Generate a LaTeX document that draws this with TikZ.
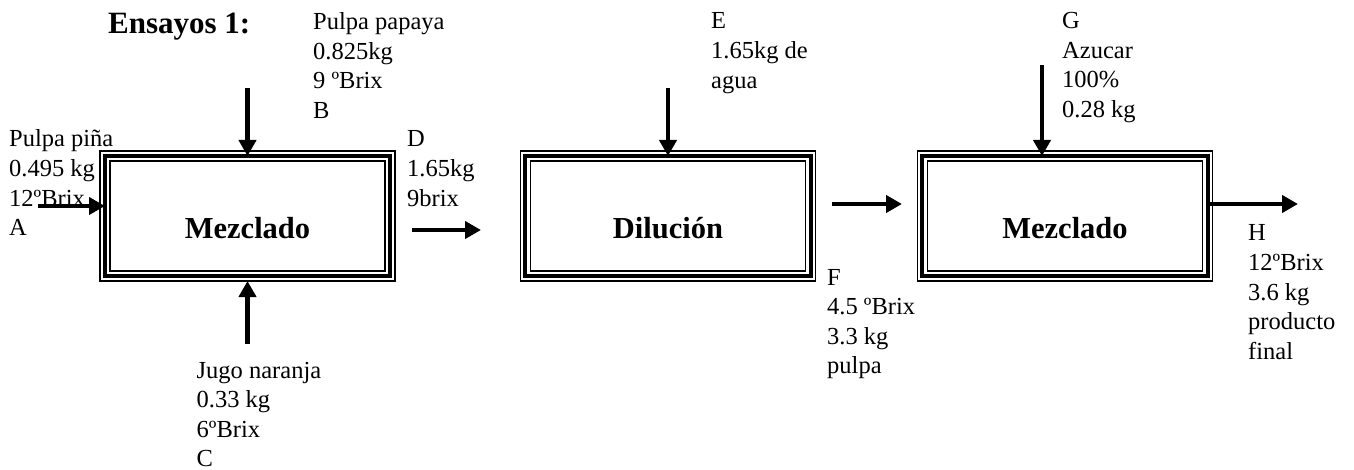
\documentclass[tikz,border=0pt]{standalone}
\usepackage{fontspec}
\setmainfont{Liberation Serif}
\usetikzlibrary{arrows.meta}
% left-aligned stack of lines, aligned on the baseline of the first one
\newcommand{\stacklines}[1]{\begin{tabular}[t]{@{}l@{}}#1\end{tabular}}
% thick middle frame and thin inner frame inside a unit's outer frame
\newcommand{\tripleframe}[1]{%
  \draw[line width=4.2pt] ([shift={(4.7,4.7)}]#1.north west) rectangle ([shift={(-4.7,-4.7)}]#1.south east);
  \draw[line width=1.5pt] ([shift={(10,10)}]#1.north west) rectangle ([shift={(-10,-10)}]#1.south east);}
\begin{document}
\begin{tikzpicture}[x=1pt,y=-1pt,
  flow/.style={line width=4.6pt,-{Triangle[width=17pt,length=16pt]}},
  unit/.style={draw,line width=1.3pt,minimum width=295pt,minimum height=130pt,
    inner sep=0pt,outer sep=0pt,font=\fontsize{30.5}{36}\selectfont\bfseries,
    text height=45pt,text depth=0pt},
  data/.style={anchor=base west,inner sep=0pt,font=\fontsize{24.5}{29.6}\selectfont},
  heading/.style={anchor=base west,inner sep=0pt,font=\fontsize{31}{36}\selectfont\bfseries},
]
\fill[white] (0,0) rectangle (1354,470);
\useasboundingbox (0,0) rectangle (1354,470);

% process units
\node[unit] (mix1) at (247.5,216) {Mezclado};
\node[unit] (dil)  at (668,216)   {Dilución};
\node[unit] (mix2) at (1065,216)  {Mezclado};
\tripleframe{mix1}
\tripleframe{dil}
\tripleframe{mix2}

% title and stream data
\node[heading] (title) at (108,34) {Ensayos 1:};
\node[data] (inA)  at (9,147)     {\stacklines{Pulpa piña\\0.495 kg\\12ºBrix\\A}};
\node[data] (inB)  at (313,29.5)  {\stacklines{Pulpa papaya\\0.825kg\\9 ºBrix\\B}};
\node[data] (inC)  at (196.5,378) {\stacklines{Jugo naranja\\0.33 kg\\6ºBrix\\C}};
\node[data] (outD) at (407,147)   {\stacklines{D\\1.65kg\\9brix}};
\node[data] (inE)  at (711,29)    {\stacklines{E\\1.65kg de\\agua}};
\node[data] (outF) at (827,285)   {\stacklines{F\\4.5 ºBrix\\3.3 kg\\pulpa}};
\node[data] (inG)  at (1062,28.5) {\stacklines{G\\Azucar\\100\%\\0.28 kg}};
\node[data] (outH) at (1248,241)  {\stacklines{H\\12ºBrix\\3.6 kg\\producto\\final}};

% streams
\coordinate (a0) at (38,206);
\coordinate (b0) at (247.5,88);
\coordinate (c0) at (247.5,344);
\coordinate (d0) at (412,230);
\coordinate (d1) at (481,230);
\coordinate (e0) at (668,88);
\coordinate (f0) at (832,204);
\coordinate (f1) at (902,204);
\coordinate (g0) at (1042,65);
\coordinate (h1) at (1298,204);

\draw[flow,shorten >=-5pt] (a0) -- (a0 -| mix1.west);
\draw[flow,shorten >=-5pt] (b0) -- (mix1.north);
\draw[flow] (c0) -- (mix1.south);
\draw[flow] (d0) -- (d1);
\draw[flow,shorten >=-5pt] (e0) -- (dil.north);
\draw[flow] (f0) -- (f1);
\draw[flow,shorten >=-5pt] (g0) -- (g0 |- mix2.north);
\draw[flow,shorten <=-4pt] (h1 -| mix2.east) -- (h1);
\end{tikzpicture}
\end{document}
